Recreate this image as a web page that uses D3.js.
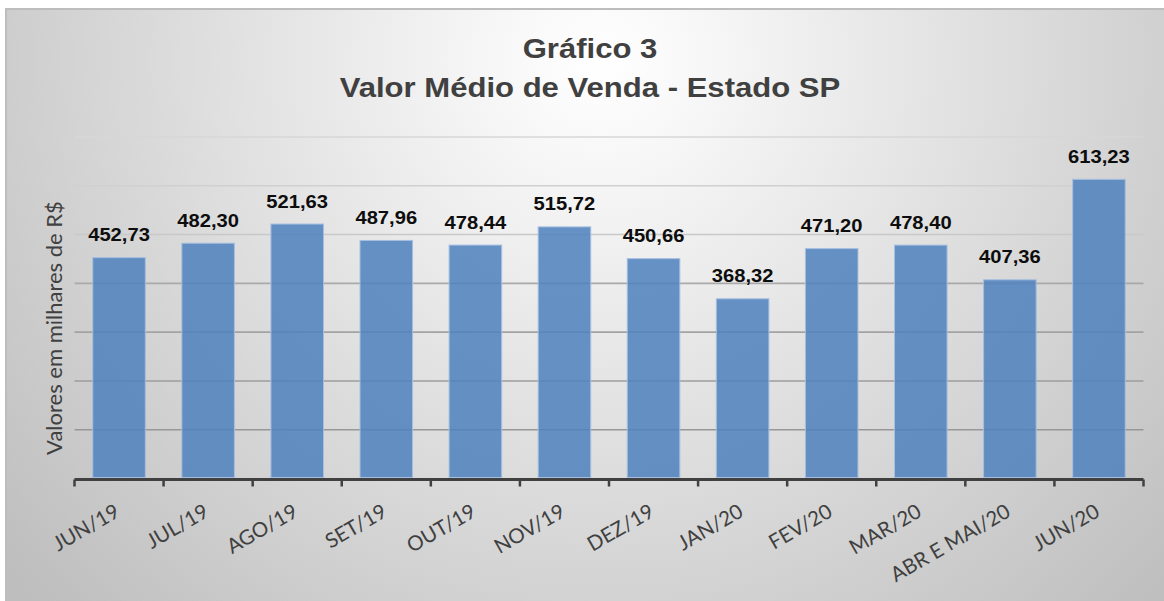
<!DOCTYPE html>
<html>
<head>
<meta charset="utf-8">
<script src="https://cdn.jsdelivr.net/npm/d3@7"></script>
<style>
  html, body { margin: 0; padding: 0; background: #ffffff; }
  svg { display: block; }
</style>
</head>
<body>
<svg id="chart" width="1164" height="601"></svg>
<script>
const categories = ["JUN/19", "JUL/19", "AGO/19", "SET/19", "OUT/19", "NOV/19", "DEZ/19", "JAN/20", "FEV/20", "MAR/20", "ABR E MAI/20", "JUN/20"];
const values = [452.73, 482.30, 521.63, 487.96, 478.44, 515.72, 450.66, 368.32, 471.20, 478.40, 407.36, 613.23];
const yTicks = [0, 100, 200, 300, 400, 500, 600, 700];
const titleLines = ["Gráfico 3", "Valor Médio de Venda - Estado SP"];
const yAxisTitle = "Valores em milhares de R$";

const svg = d3.select("#chart");
const W = 1164, H = 601;

const defs = svg.append("defs");
const bg = defs.append("radialGradient").attr("id", "bgGrad")
  .attr("gradientUnits", "userSpaceOnUse")
  .attr("cx", 600).attr("cy", 60).attr("r", 780);
bg.append("stop").attr("offset", 0).attr("stop-color", "#ffffff");
bg.append("stop").attr("offset", 0.12).attr("stop-color", "#f8f8f8");
bg.append("stop").attr("offset", 1).attr("stop-color", "#bebebe");

const gg = defs.append("linearGradient").attr("id", "gridGrad")
  .attr("gradientUnits", "userSpaceOnUse")
  .attr("x1", 0).attr("y1", 130).attr("x2", 0).attr("y2", 440);
gg.append("stop").attr("offset", 0).attr("stop-color", "#d8d8d8");
gg.append("stop").attr("offset", 0.35).attr("stop-color", "#c8c8c8");
gg.append("stop").attr("offset", 0.5).attr("stop-color", "#a8a8a8");
gg.append("stop").attr("offset", 1).attr("stop-color", "#969696");

// chart background
svg.append("rect")
  .attr("x", 6).attr("y", 9).attr("width", W + 20).attr("height", H + 20)
  .attr("fill", "url(#bgGrad)")
  .attr("stroke", "#bdbdbd").attr("stroke-width", 2);

const x = d3.scaleBand()
  .domain(categories)
  .range([74.5, 1143.5])
  .paddingInner(0.41)
  .paddingOuter(0.205);

const y = d3.scaleLinear().domain([0, 700]).range([478.5, 137]);

// gridlines
svg.append("g")
  .selectAll("line")
  .data(yTicks.filter(d => d > 0))
  .join("line")
  .attr("x1", 74.5).attr("x2", 1143.5)
  .attr("y1", d => y(d)).attr("y2", d => y(d))
  .attr("stroke", "url(#gridGrad)")
  .attr("stroke-width", 1.6);

// bars
svg.append("g")
  .selectAll("rect")
  .data(values)
  .join("rect")
  .attr("x", (d, i) => x(categories[i]))
  .attr("y", d => y(d))
  .attr("width", x.bandwidth())
  .attr("height", d => y(0) - 1 - y(d))
  .attr("fill", "#4f81bd")
  .attr("fill-opacity", 0.86)
  .attr("stroke", "#a6bfe0")
  .attr("stroke-width", 1);

// x axis
const xAxis = d3.axisBottom(x).tickSize(0).tickFormat("");
const gx = svg.append("g").attr("transform", `translate(0,${y(0) + 1})`).call(xAxis);
gx.select(".domain").remove();
gx.append("line")
  .attr("x1", 74.5).attr("x2", 1143.5).attr("y1", 0).attr("y2", 0)
  .attr("stroke", "#404040").attr("stroke-width", 3);
const edges = categories.map(c => x(c) - x.step() * x.paddingInner() / 2);
edges.push(1143.5);
gx.selectAll(".tickmark").data(edges).join("line")
  .attr("class", "tickmark")
  .attr("x1", d => d).attr("x2", d => d)
  .attr("y1", 0).attr("y2", 7)
  .attr("stroke", "#404040").attr("stroke-width", 2.5);

// x labels
svg.append("g")
  .selectAll("text")
  .data(categories)
  .join("text")
  .attr("transform", d => `translate(${x(d) + x.bandwidth() / 2 + 2},${515.5}) rotate(-30)`)
  .attr("text-anchor", "end")
  .attr("font-family", "Lato, 'Open Sans', sans-serif")
  .attr("font-size", 20.5)
  .attr("fill", "#404040")
  .text(d => d);

// y axis title
svg.append("text")
  .attr("transform", `translate(62,${328}) rotate(-90)`)
  .attr("text-anchor", "middle")
  .attr("font-family", "Lato, 'Open Sans', sans-serif")
  .attr("font-size", 22)
  .attr("fill", "#404040")
  .text(yAxisTitle);

// data labels
const fmt = v => d3.format(".2f")(v).replace(".", ",");
const labels = svg.append("g")
  .selectAll("text")
  .data(values)
  .join("text")
  .attr("x", (d, i) => x(categories[i]) + x.bandwidth() / 2)
  .attr("y", d => y(d) - 16.5)
  .attr("text-anchor", "middle")
  .attr("font-family", "'Liberation Sans', Arial, sans-serif")
  .attr("font-weight", "bold")
  .attr("font-size", 18.5)
  .attr("fill", "#0d0d0d")
  .text(d => fmt(d));
labels.each(function() {
  const l = this.getComputedTextLength();
  d3.select(this).attr("textLength", l * 1.09).attr("lengthAdjust", "spacingAndGlyphs");
});

// title
const title = svg.append("g")
  .selectAll("text")
  .data(titleLines)
  .join("text")
  .attr("x", 590)
  .attr("y", (d, i) => i === 0 ? 58 : 96.5)
  .attr("text-anchor", "middle")
  .attr("font-family", "'Liberation Sans', Arial, sans-serif")
  .attr("font-weight", "bold")
  .attr("font-size", 28.5)
  .attr("fill", "#404040")
  .text(d => d);
title.each(function() {
  const l = this.getComputedTextLength();
  d3.select(this).attr("textLength", l * 1.09).attr("lengthAdjust", "spacingAndGlyphs");
});
</script>
</body>
</html>
